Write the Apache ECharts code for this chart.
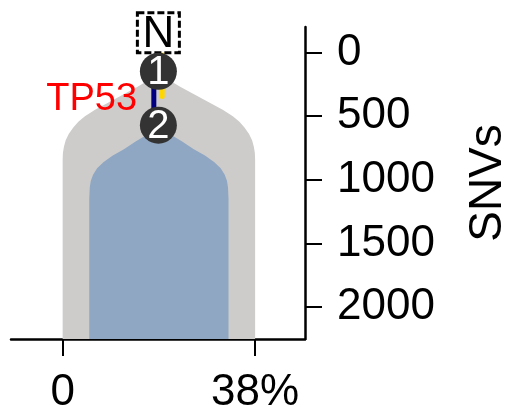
<!DOCTYPE html>
<html>
<head>
<meta charset="utf-8">
<script src="https://cdn.jsdelivr.net/npm/echarts@6/dist/echarts.min.js"></script>
<style>
html,body{margin:0;padding:0;background:#fff;}
#chart{width:527px;height:415px;}
</style>
</head>
<body>
<div id="chart"></div>
<script>
// ---- data ----
const xTickValues = [0, 38];
const xTickLabels = ['0', '38%'];
const yTickValues = [0, 500, 1000, 1500, 2000];
const yTickLabels = ['0', '500', '1000', '1500', '2000'];
const yAxisName = 'SNVs';

const cloneCenter = 19; // % (centre of the plot of clones)
// gray clone (clone 1): depth in SNVs and half-width in %
const grayDepth = [170, 270, 360, 450, 500, 545, 590, 640, 690, 740, 790, 840, 2250];
const grayHalf  = [0, 4.2, 8.4, 12.6, 14.6, 15.9, 16.9, 17.8, 18.4, 18.75, 18.95, 19, 19];
// blue clone (clone 2)
const blueDepth = [590, 700, 760, 810, 860, 910, 960, 1010, 1060, 1150, 2250];
const blueHalf  = [0, 4.6, 6.9, 9.1, 10.9, 12.2, 13.0, 13.45, 13.65, 13.75, 13.75];

const rootName = 'N';
const rootDepth = -154;
const nodeNames = ['1', '2'];
const nodeDepth = [148, 571];
const trunkEdge = [0, 345];
const tp53Edge = [148, 571];
const driverLabel = 'TP53';
const driverDepth = 372;

const FONT = '"Liberation Sans", Arial, Helvetica, sans-serif';

function shapeSeries(depths, halves, color) {
  return {
    type: 'custom', coordinateSystem: 'cartesian2d', silent: true, z: 1,
    data: [[cloneCenter, depths[0]]],
    renderItem: function (params, api) {
      const pts = [];
      for (let i = 0; i < depths.length; i++) pts.push(api.coord([cloneCenter - halves[i], depths[i]]));
      for (let i = depths.length - 1; i >= 0; i--) pts.push(api.coord([cloneCenter + halves[i], depths[i]]));
      return { type: 'polygon', shape: { points: pts }, style: { fill: color } };
    }
  };
}

function edgeSeries(range, xOff, color) {
  return {
    type: 'custom', coordinateSystem: 'cartesian2d', silent: true, z: 3,
    data: [[cloneCenter + xOff, range[0]]],
    renderItem: function (params, api) {
      const a = api.coord([cloneCenter + xOff, range[0]]);
      const b = api.coord([cloneCenter + xOff, range[1]]);
      return { type: 'line', shape: { x1: a[0], y1: a[1], x2: b[0], y2: b[1] },
        style: { stroke: color, lineWidth: 5, lineCap: 'round' } };
    }
  };
}

const chart = echarts.init(document.getElementById('chart'), null, { renderer: 'canvas' });
chart.setOption({
  animation: false,
  backgroundColor: '#ffffff',
  grid: { left: 11, right: 222, top: 27, bottom: 74 },
  xAxis: {
    type: 'value', min: -10.2, max: 47.85,
    axisLine: { show: true, onZero: false, lineStyle: { color: '#000', width: 2.5 } },
    axisTick: { show: true, customValues: xTickValues, length: 17, lineStyle: { color: '#000', width: 2 } },
    axisLabel: { customValues: xTickValues, margin: 32, fontSize: 44, color: '#000', fontFamily: FONT,
      formatter: function (v) { return xTickLabels[xTickValues.indexOf(v)]; } },
    splitLine: { show: false }
  },
  yAxis: {
    type: 'value', inverse: true, min: -200, max: 2250, position: 'right',
    name: yAxisName, nameLocation: 'middle', nameRotate: 90, nameGap: 160,
    nameTextStyle: { fontSize: 46, color: '#000', fontFamily: FONT },
    axisLine: { show: true, onZero: false, lineStyle: { color: '#000', width: 2.5 } },
    axisTick: { show: true, customValues: yTickValues, length: 17, lineStyle: { color: '#000', width: 2 } },
    axisLabel: { customValues: yTickValues, margin: 32, fontSize: 44, color: '#000', fontFamily: FONT,
      formatter: function (v) { return yTickLabels[yTickValues.indexOf(v)]; } },
    splitLine: { show: false }
  },
  series: [
    shapeSeries(grayDepth, grayHalf, '#cdcccb'),
    shapeSeries(blueDepth, blueHalf, '#8fa7c3'),
    edgeSeries(trunkEdge, 0.65, '#ffd700'),
    edgeSeries(tp53Edge, -1.0, '#000080'),
    {
      type: 'custom', coordinateSystem: 'cartesian2d', silent: true, z: 4,
      data: [[cloneCenter, rootDepth]],
      renderItem: function (params, api) {
        const c = api.coord([cloneCenter - 0.1, rootDepth]);
        return { type: 'group', children: [
          { type: 'rect', shape: { x: c[0] - 21, y: c[1] - 20, width: 42, height: 40 },
            style: { fill: '#fff', stroke: '#000', lineWidth: 3, lineDash: [7, 3] } },
          { type: 'text', x: c[0], y: c[1] + 2, style: { text: rootName, fill: '#000', fontSize: 44, fontFamily: FONT,
            align: 'center', verticalAlign: 'middle' } }
        ] };
      }
    },
    {
      type: 'custom', coordinateSystem: 'cartesian2d', silent: true, z: 5,
      data: nodeNames.map(function (n, i) { return [cloneCenter - 0.1, nodeDepth[i], i]; }),
      renderItem: function (params, api) {
        const c = api.coord([api.value(0), api.value(1)]);
        const idx = api.value(2);
        return { type: 'group', children: [
          { type: 'circle', shape: { cx: c[0], cy: c[1], r: 18.5 }, style: { fill: '#333333' } },
          { type: 'text', x: c[0], y: c[1] + 2, style: { text: nodeNames[idx], fill: '#fff', fontSize: 40, fontFamily: FONT,
            align: 'center', verticalAlign: 'middle' } }
        ] };
      }
    },
    {
      type: 'custom', coordinateSystem: 'cartesian2d', silent: true, z: 6,
      data: [[cloneCenter, driverDepth]],
      renderItem: function (params, api) {
        const c = api.coord([cloneCenter - 4.3, driverDepth]);
        return { type: 'text', x: c[0], y: c[1], style: { text: driverLabel, fill: '#ff0000', fontSize: 38, fontFamily: FONT,
          align: 'right', verticalAlign: 'middle' } };
      }
    }
  ]
});
</script>
</body>
</html>
